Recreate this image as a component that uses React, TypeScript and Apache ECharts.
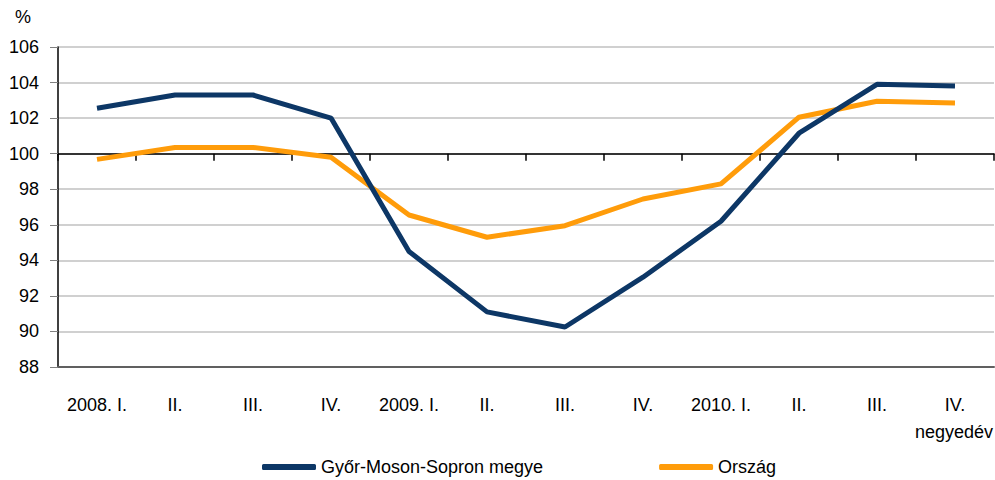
import React, { useEffect, useRef } from "react";
import * as echarts from "echarts";

const categories = ["2008. I.", "II.", "III.", "IV.", "2009. I.", "II.", "III.", "IV.", "2010. I.", "II.", "III.", "IV."];
const gyorValues = [102.55, 103.3, 103.3, 102.0, 94.5, 91.1, 90.25, 93.05, 96.2, 101.15, 103.9, 103.8];
const orszagValues = [99.68, 100.35, 100.35, 99.8, 96.55, 95.3, 95.95, 97.45, 98.3, 102.05, 102.95, 102.85];
const seriesNames = ["Győr-Moson-Sopron megye", "Ország"];
const yMin = 88;
const yMax = 106;
const yStep = 2;
const crossValue = 100;

const FONT = "'Liberation Sans', Arial, sans-serif";
const FS = 18;

export default function App() {
  const ref = useRef<HTMLDivElement>(null);
  useEffect(() => {
    if (!ref.current) return;
    const chart = echarts.init(ref.current, null, { renderer: "svg" });
    const gridTop = 47;
    const gridBottom = 113;
    const gridHeight = 480 - gridTop - gridBottom;
    const crossOffset = -((crossValue - yMin) / (yMax - yMin)) * gridHeight;
    chart.setOption({
      animation: false,
      backgroundColor: "#ffffff",
      textStyle: { fontFamily: FONT },
      grid: { left: 58, right: 1, top: gridTop, bottom: gridBottom, containLabel: false },
      legend: {
        left: 262,
        top: 458,
        padding: 0,
        itemGap: 116,
        itemWidth: 54,
        itemHeight: 6,
        icon: "roundRect",
        textStyle: { fontFamily: FONT, fontSize: FS, color: "#000" },
        data: seriesNames,
      },
      graphic: [
        { type: "text", left: 15, top: 8, style: { text: "%", font: `${FS}px ${FONT}`, fill: "#000" } },
        { type: "text", right: 2, top: 423, style: { text: "negyedév", font: `${FS}px ${FONT}`, fill: "#000" } },
      ],
      xAxis: [
        {
          type: "category",
          data: categories,
          boundaryGap: true,
          axisLine: { show: true, lineStyle: { color: "#606060", width: 2 } },
          axisTick: { show: false },
          axisLabel: { margin: 29, fontSize: FS, color: "#000", fontFamily: FONT, interval: 0 },
          splitLine: { show: false },
        },
        {
          type: "category",
          data: categories,
          position: "bottom",
          offset: crossOffset,
          boundaryGap: true,
          axisLine: { show: true, lineStyle: { color: "#000", width: 1.5 } },
          axisTick: { show: true, inside: false, length: 7, lineStyle: { color: "#000", width: 1.5 }, interval: 0 },
          axisLabel: { show: false },
          splitLine: { show: false },
        },
      ],
      yAxis: {
        type: "value",
        min: yMin,
        max: yMax,
        interval: yStep,
        axisLine: { show: true, lineStyle: { color: "#000", width: 1.5 } },
        axisTick: { show: true, length: 8, lineStyle: { color: "#808080" } },
        axisLabel: { margin: 19, fontSize: FS, color: "#000", fontFamily: FONT },
        splitLine: { show: true, lineStyle: { color: "#c0c0c0", width: 1.5 } },
      },
      series: [
        {
          name: seriesNames[0],
          type: "line",
          data: gyorValues,
          symbol: "none",
          lineStyle: { color: "#0d3766", width: 5 },
          itemStyle: { color: "#0d3766" },
          z: 3,
        },
        {
          name: seriesNames[1],
          type: "line",
          data: orszagValues,
          symbol: "none",
          lineStyle: { color: "#ff9c0a", width: 5 },
          itemStyle: { color: "#ff9c0a" },
          z: 2,
        },
      ],
    });
    return () => chart.dispose();
  }, []);
  return <div ref={ref} style={{ position: "fixed", left: 0, top: 0, width: 995, height: 480 }} />;
}
